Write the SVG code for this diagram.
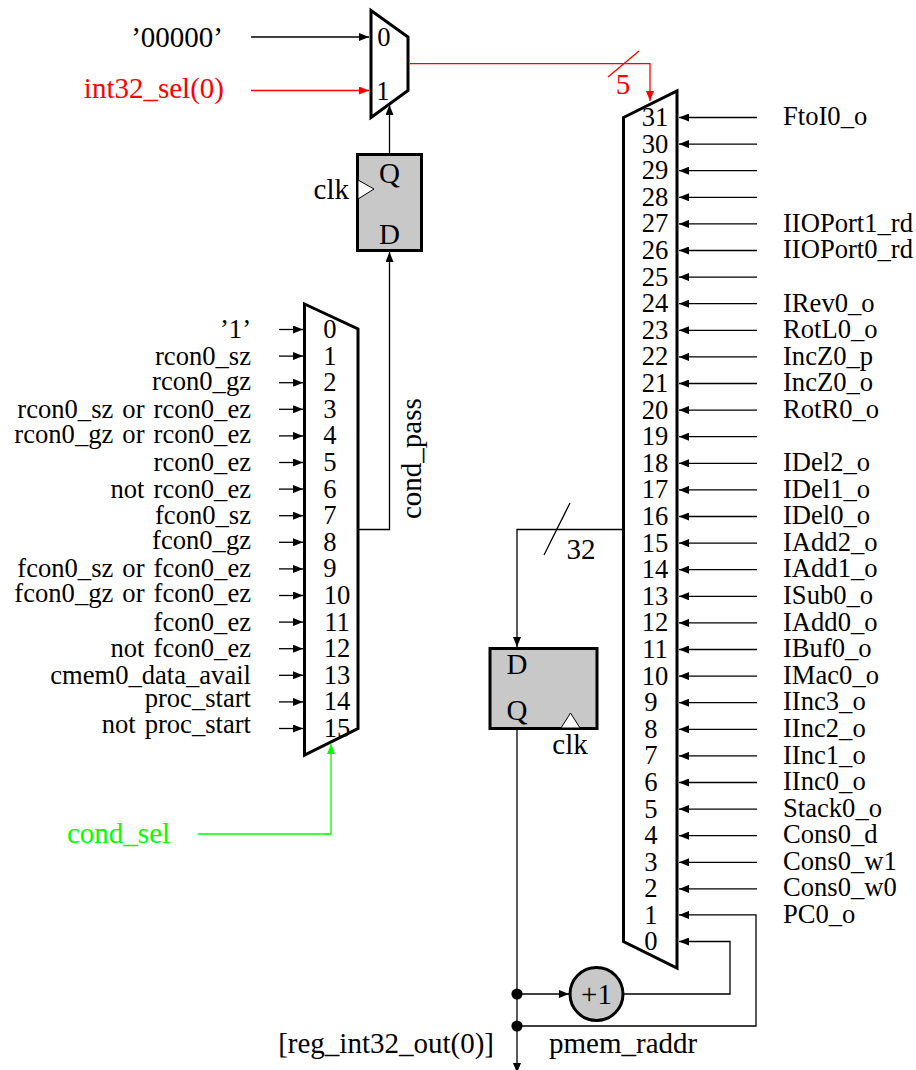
<svg xmlns="http://www.w3.org/2000/svg" width="916" height="1070" viewBox="0 0 916 1070">
<style>
text{font-family:"Liberation Serif","Times New Roman",serif;font-size:26.6px;fill:#000}
.b{font-size:29px}
.e{text-anchor:end}.m{text-anchor:middle}.r{fill:#f00}.g{fill:#0f0}
.ws{word-spacing:2.4px}
.w{fill:none;stroke:#000;stroke-width:1.3}
.wr{fill:none;stroke:#f00;stroke-width:1.3}
.wg{fill:none;stroke:#0f0;stroke-width:1.3}
.mux{fill:#fff;stroke:#000;stroke-width:3}
.ff{fill:#c8c8c8;stroke:#000;stroke-width:3}
.ck{fill:#fff;stroke:#000;stroke-width:1}
</style>
<defs>
<marker id="a" viewBox="0 0 10 8" refX="10" refY="4" markerWidth="10" markerHeight="8" markerUnits="userSpaceOnUse" orient="auto"><path d="M0 0L10 4L0 8z" fill="#000"/></marker>
<marker id="ar" viewBox="0 0 10 8" refX="10" refY="4" markerWidth="10" markerHeight="8" markerUnits="userSpaceOnUse" orient="auto"><path d="M0 0L10 4L0 8z" fill="#f00"/></marker>
<marker id="ag" viewBox="0 0 10 8" refX="10" refY="4" markerWidth="10" markerHeight="8" markerUnits="userSpaceOnUse" orient="auto"><path d="M0 0L10 4L0 8z" fill="#0f0"/></marker>
</defs>
<g id="mux-top">
<path class="mux" d="M371 10.500L408 37V90.500L371 117.500z"/>
<text class="m" x="384" y="46">0</text><text class="m" x="383" y="100">1</text>
</g>
<g id="mux-cond">
<path class="mux" d="M304.500 304L358 329V728.500L304.500 755z"/>
<text class="m" x="330" y="338">0</text><text class="m" x="330" y="365">1</text><text class="m" x="330" y="391">2</text><text class="m" x="330" y="418">3</text><text class="m" x="330" y="444">4</text><text class="m" x="330" y="471">5</text><text class="m" x="330" y="498">6</text><text class="m" x="330" y="524">7</text><text class="m" x="330" y="551">8</text><text class="m" x="330" y="577">9</text><text class="m" x="337" y="604">10</text><text class="m" x="337" y="631">11</text><text class="m" x="337" y="657">12</text><text class="m" x="337" y="684">13</text><text class="m" x="337" y="710">14</text><text class="m" x="337" y="737">15</text>
</g>
<g id="mux-main">
<path class="mux" d="M623.500 117.500L677 91V968L623.500 941.500z"/>
<text class="m" x="655" y="126">31</text><text class="m" x="655" y="153">30</text><text class="m" x="655" y="179">29</text><text class="m" x="655" y="206">28</text><text class="m" x="655" y="232">27</text><text class="m" x="655" y="259">26</text><text class="m" x="655" y="286">25</text><text class="m" x="655" y="312">24</text><text class="m" x="655" y="339">23</text><text class="m" x="655" y="365">22</text><text class="m" x="655" y="392">21</text><text class="m" x="655" y="419">20</text><text class="m" x="655" y="445">19</text><text class="m" x="655" y="472">18</text><text class="m" x="655" y="498">17</text><text class="m" x="655" y="525">16</text><text class="m" x="655" y="552">15</text><text class="m" x="655" y="578">14</text><text class="m" x="655" y="605">13</text><text class="m" x="655" y="631">12</text><text class="m" x="655" y="658">11</text><text class="m" x="655" y="685">10</text><text class="m" x="651" y="711">9</text><text class="m" x="651" y="738">8</text><text class="m" x="651" y="764">7</text><text class="m" x="651" y="791">6</text><text class="m" x="651" y="818">5</text><text class="m" x="651" y="844">4</text><text class="m" x="651" y="871">3</text><text class="m" x="651" y="897">2</text><text class="m" x="651" y="924">1</text><text class="m" x="651" y="950">0</text>
</g>
<g id="ff-cond">
<rect class="ff" x="357.500" y="154.500" width="64" height="96"/>
<path class="ck" d="M358 180L374 189L358 199z"/>
<text class="m b" x="389.500" y="183">Q</text><text class="m b" x="389.500" y="244">D</text>
<text class="e b" x="349" y="199">clk</text>
</g>
<g id="ff-reg">
<rect class="ff" x="490" y="648.500" width="107" height="80"/>
<path class="ck" d="M561 728L570.500 713L580 728z"/>
<text class="m b" x="517" y="674">D</text><text class="m b" x="517" y="720">Q</text>
<text class="m b" x="570" y="754">clk</text>
</g>
<g id="inc">
<circle cx="596.500" cy="994" r="26.500" fill="#c8c8c8" stroke="#000" stroke-width="3"/>
<text class="m b" x="596.500" y="1004">+1</text>
</g>
<g id="connectors">
<g class="w" marker-end="url(#a)">
<path d="M251 37H369"/>
<path d="M389.500 154V105"/>
<path d="M358 529.500H389.500V252"/>
<path d="M623 529.500H517V647"/>
<path d="M517 730V1073"/>
<path d="M517 994H569"/>
<path d="M623 994H730V941.500H679"/>
<path d="M517 1026H756V914.900H679"/>
<path d="M279 329.500H303"/><path d="M279 356.100H303"/><path d="M279 382.700H303"/><path d="M279 409.300H303"/><path d="M279 435.900H303"/><path d="M279 462.500H303"/><path d="M279 489.100H303"/><path d="M279 515.700H303"/><path d="M279 542.300H303"/><path d="M279 568.900H303"/><path d="M279 595.500H303"/><path d="M279 622.100H303"/><path d="M279 648.700H303"/><path d="M279 675.300H303"/><path d="M279 701.900H303"/><path d="M279 728.500H303"/>
<path d="M757 117.500H679"/><path d="M757 144.100H679"/><path d="M757 170.700H679"/><path d="M757 197.300H679"/><path d="M757 223.900H679"/><path d="M757 250.500H679"/><path d="M757 277.100H679"/><path d="M757 303.700H679"/><path d="M757 330.300H679"/><path d="M757 356.900H679"/><path d="M757 383.500H679"/><path d="M757 410.100H679"/><path d="M757 436.700H679"/><path d="M757 463.300H679"/><path d="M757 489.900H679"/><path d="M757 516.500H679"/><path d="M757 543.100H679"/><path d="M757 569.700H679"/><path d="M757 596.300H679"/><path d="M757 622.900H679"/><path d="M757 649.500H679"/><path d="M757 676.100H679"/><path d="M757 702.700H679"/><path d="M757 729.300H679"/><path d="M757 755.900H679"/><path d="M757 782.500H679"/><path d="M757 809.100H679"/><path d="M757 835.700H679"/><path d="M757 862.300H679"/><path d="M757 888.900H679"/>
</g>
<path class="wr" marker-end="url(#ar)" d="M251 90.500H369"/>
<path class="wr" marker-end="url(#ar)" d="M410 63.700H650V101"/>
<path class="wg" marker-end="url(#ag)" d="M198 834H331V744"/>
<path class="wr" d="M608 77L639 51"/>
<path class="w" d="M544 555L570 503"/>
<circle cx="517" cy="994" r="5.600"/>
<circle cx="517" cy="1026" r="5.600"/>
</g>
<g id="labels-left">
<text class="e" x="251" y="338">’1’</text><text class="e" x="251" y="365">rcon0_sz</text><text class="e" x="251" y="390">rcon0_gz</text><text class="e ws" x="251" y="418">rcon0_sz or rcon0_ez</text><text class="e ws" x="251" y="443">rcon0_gz or rcon0_ez</text><text class="e" x="251" y="471">rcon0_ez</text><text class="e ws" x="251" y="498">not rcon0_ez</text><text class="e" x="251" y="524">fcon0_sz</text><text class="e" x="251" y="549">fcon0_gz</text><text class="e ws" x="251" y="577">fcon0_sz or fcon0_ez</text><text class="e ws" x="251" y="602">fcon0_gz or fcon0_ez</text><text class="e" x="251" y="631">fcon0_ez</text><text class="e ws" x="251" y="657">not fcon0_ez</text><text class="e" x="251" y="684">cmem0_data_avail</text><text class="e" x="251" y="707">proc_start</text><text class="e ws" x="251" y="733">not proc_start</text>
</g>
<g id="labels-right">
<text x="783" y="125">FtoI0_o</text><text x="783" y="232">IIOPort1_rd</text><text x="783" y="258">IIOPort0_rd</text><text x="783" y="312">IRev0_o</text><text x="783" y="338">RotL0_o</text><text x="783" y="365">IncZ0_p</text><text x="783" y="391">IncZ0_o</text><text x="783" y="418">RotR0_o</text><text x="783" y="471">IDel2_o</text><text x="783" y="498">IDel1_o</text><text x="783" y="524">IDel0_o</text><text x="783" y="551">IAdd2_o</text><text x="783" y="577">IAdd1_o</text><text x="783" y="604">ISub0_o</text><text x="783" y="631">IAdd0_o</text><text x="783" y="657">IBuf0_o</text><text x="783" y="684">IMac0_o</text><text x="783" y="710">IInc3_o</text><text x="783" y="737">IInc2_o</text><text x="783" y="764">IInc1_o</text><text x="783" y="790">IInc0_o</text><text x="783" y="817">Stack0_o</text><text x="783" y="843">Cons0_d</text><text x="783" y="870">Cons0_w1</text><text x="783" y="896">Cons0_w0</text><text x="783" y="923">PC0_o</text>
</g>
<g id="labels-misc">
<text class="e b" x="223" y="47">’00000’</text>
<text class="e r b" x="224" y="98">int32_sel(0)</text>
<text class="g b" x="67" y="843">cond_sel</text>
<text class="r m b" x="623" y="94">5</text>
<text class="m b" x="581" y="559">32</text>
<text class="b" transform="translate(420.500 519) rotate(-90)">cond_pass</text>
<text class="e b" x="494" y="1053">[reg_int32_out(0)]</text>
<text class="b" x="549" y="1053">pmem_raddr</text>
</g>
</svg>
